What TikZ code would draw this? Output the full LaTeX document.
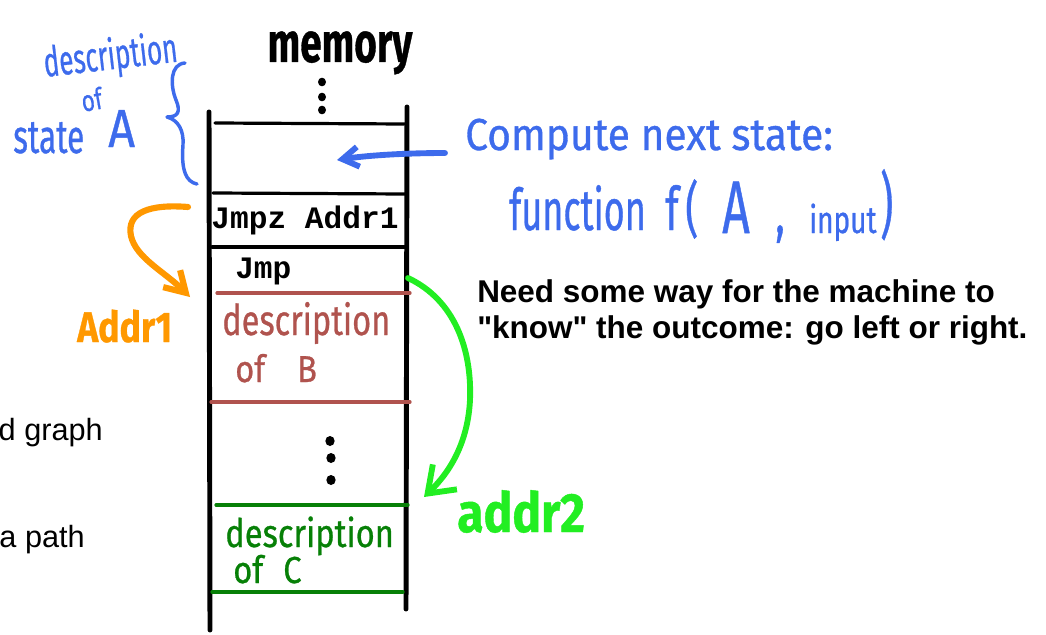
\documentclass[tikz,border=0pt]{standalone}
\usepackage{fontspec}
\setmainfont{Liberation Sans}[Ligatures=TeXOff]
\newfontfamily\handfont{Fira Sans}[FakeBold=0.8]
\newfontfamily\codefont{Liberation Mono}
\usetikzlibrary{arrows.meta,shapes.geometric}
\definecolor{inkblue}{HTML}{3D6BEC}
\definecolor{inkorange}{HTML}{FF9800}
\definecolor{inkgreen}{HTML}{22EE22}
\definecolor{deepgreen}{HTML}{078007}
\definecolor{brick}{HTML}{B0534E}

% taller-than-wide lettering, scaled about the baseline
\newcommand\vstretch[2]{\scalebox{1}[#1]{#2}}

\tikzset{
  wall/.style={line width=3.7pt, black},
  cell/.style={line width=2.4pt},
  hand/.style={font={\handfont\fontsize{#1}{#1}\selectfont}, inner sep=0pt},
  boldhand/.style={font={\handfont\bfseries\fontsize{#1}{#1}\selectfont}, inner sep=0pt},
  code/.style={font={\codefont\bfseries\fontsize{23.4}{23.4}\selectfont}, inner sep=0pt},
  plain/.style={font={\fontsize{#1}{#1}\selectfont}, inner sep=0pt},
  note/.style={font={\bfseries\fontsize{23.6}{23.6}\selectfont}, inner sep=0pt, anchor=base west},
  dot/.style={ellipse, fill=black, inner sep=0pt, minimum width=6pt, minimum height=6.5pt},
}

\begin{document}
\begin{tikzpicture}[x=0.75pt, y=-0.75pt, line cap=round, line join=round]
\useasboundingbox (0,0) rectangle (1046,635);

% memory column
\draw[wall] (209,112) -- (210,630);
\draw[wall] (407,107) -- (406,609);
\draw[cell] (215,123) -- (405,124);
\draw[cell] (213,193) -- (405,194);
\draw[cell] (212,247) -- (405,247);
\draw[cell, brick] (217,293) -- (410,293);
\draw[cell, brick] (211,402) -- (410,402);
\draw[cell, deepgreen] (216,505) -- (408,505);
\draw[cell, deepgreen] (212,592) -- (403,592);

\node[boldhand=29, anchor=base] (mem) at (340,62) {\vstretch{1.45}{memory}};
\node[dot] (d1) at (322,82) {};
\node[dot] (d2) at (322,97) {};
\node[dot] (d3) at (322,110) {};
\node[dot, minimum width=7pt, minimum height=7.5pt] (d4) at (330,441) {};
\node[dot, minimum width=7pt, minimum height=7.5pt] (d5) at (331,458) {};
\node[dot, minimum width=7pt, minimum height=7.5pt] (d6) at (331,480) {};

\node[code, anchor=base] (jz) at (305,228) {Jmpz Addr1};
\node[code, anchor=base west] (jmp) at (235,278) {Jmp};

\node[hand=24.4, text=brick, anchor=base west] (db1) at (222,335) {\vstretch{1.3}{description}};
\node[hand=24.4, text=brick, anchor=base west] (db2) at (235,382) {\vstretch{1.15}{of\hspace{24pt}B}};
\node[hand=24.5, text=deepgreen, anchor=base west] (dc1) at (225,547) {\vstretch{1.2}{description}};
\node[hand=24.5, text=deepgreen, anchor=base west] (dc2) at (233,583) {\vstretch{1.15}{of\hspace{15pt}C}};

% description of state A, with its brace
\node[hand=19.5, text=inkblue, anchor=base west, rotate=6.6] (da1) at (45,77) {\vstretch{1.6}{description}};
\node[hand=17, text=inkblue, anchor=base west, rotate=10] (da2) at (83,112) {\vstretch{1.3}{of}};
\node[hand=23.6, text=inkblue, anchor=base west] (da3) at (13,153) {\vstretch{1.5}{state}};
\node[hand=35, text=inkblue, anchor=base west] (da4) at (108,147) {\vstretch{1.15}{A}};
\draw[inkblue, line width=2.6pt] (185,63) .. controls (170,64) and (170,85) .. (176,100)
  .. controls (181,112) and (178,117) .. (167,117)
  .. controls (178,120) and (184,130) .. (183,145)
  .. controls (181,170) and (186,182) .. (197,184);

% next-state computation
\node[hand=30.5, text=inkblue, anchor=base west] (cmp) at (465,150) {\vstretch{1.1}{Compute next state:}};
\node[hand=27, text=inkblue, anchor=base west] (fn1) at (509,230) {\vstretch{1.6}{function}};
\node[hand=30, text=inkblue, anchor=base west] (fn2) at (665,230) {\vstretch{1.5}{f\hspace{5pt}(}};
\node[hand=36, text=inkblue, anchor=base west] (fn3) at (722,233) {\vstretch{1.55}{A}};
\node[hand=30, text=inkblue, anchor=base west] (fn4) at (775,233) {\vstretch{1.5}{,}};
\node[hand=21, text=inkblue, anchor=base west] (fn5) at (809,233) {\vstretch{1.35}{input}};
\node[hand=30, text=inkblue, anchor=base west] (fn6) at (880,230) {\vstretch{1.8}{)}};
\coordinate (ftail) at (445,153);
\coordinate (aslot) at (337,160);
\draw[inkblue, line width=4.4pt, -{Straight Barb[length=12pt,width=15pt]}]
  (ftail) .. controls (410,153) and (370,155) .. (aslot);

% branch targets
\coordinate (zsrc) at (188,207);
\coordinate (zdst) at (190,297);
\draw[inkorange, line width=4.6pt, -{Straight Barb[length=15pt,width=18pt]}]
  (zsrc) .. controls (150,204) and (126,212) .. (131,236)
  .. controls (136,258) and (165,272) .. (zdst);
\node[boldhand=26.7, text=inkorange, anchor=base west] (a1) at (77,342) {\vstretch{1.2}{Addr1}};

\coordinate (jsrc) at (408,278);
\coordinate (jdst) at (424,497);
\draw[inkgreen, line width=4.4pt, -{Straight Barb[length=18pt,width=26pt]}]
  (jsrc) .. controls (455,300) and (472,350) .. (470,400)
  .. controls (468,440) and (452,470) .. (jdst);
\node[boldhand=36, text=inkgreen, anchor=base west] (a2) at (457,532) {\vstretch{1.15}{addr2}};

% notes
\node[note] (n1) at (477,302) {Need some way for the machine to};
\node[note] (n2) at (477,338) {"know" the outcome: go left or right.};
\node[plain=23, anchor=base east] (g1) at (103,440) {d graph};
\node[plain=23, anchor=base east] (g2) at (85,547) {a path};
\end{tikzpicture}
\end{document}
